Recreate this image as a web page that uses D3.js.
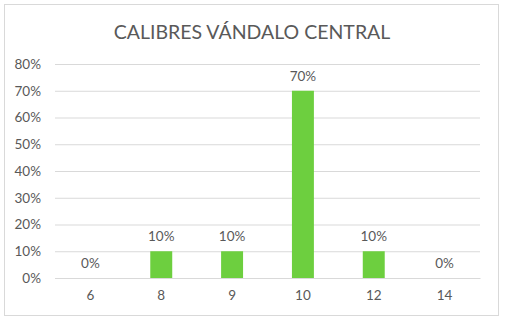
<!DOCTYPE html>
<html lang="es">
<head>
<meta charset="UTF-8">
<title>Calibres Vándalo Central</title>
<script src="https://d3js.org/d3.v7.min.js"></script>
<style>
  body { margin: 0; background: #fff; }
  text { font-family: Lato, "Open Sans", sans-serif; fill: #595959; }
</style>
</head>
<body>
<div id="chart"></div>
<script>
    // Data
    var calibres = ["6", "8", "9", "10", "12", "14"];
    var valores = [0, 0.10, 0.10, 0.70, 0.10, 0];
    var ticks = [0, 0.1, 0.2, 0.3, 0.4, 0.5, 0.6, 0.7, 0.8];

    var W = 506, H = 323;
    var margin = { top: 64, right: 26, bottom: 45, left: 55 },
        width = W - margin.left - margin.right,
        height = 278 - margin.top;

    var svg = d3.select("#chart")
        .append("svg")
        .attr("width", W)
        .attr("height", H);

    // Chart border
    svg.append("rect")
        .attr("x", 4.5).attr("y", 4.5)
        .attr("width", 494).attr("height", 311)
        .attr("fill", "#fff")
        .attr("stroke", "#d9d9d9");

    // Title
    svg.append("text")
        .attr("x", 252)
        .attr("y", 39)
        .attr("text-anchor", "middle")
        .style("font-size", "19.5px")
        .text("CALIBRES VÁNDALO CENTRAL");

    var g = svg.append("g")
        .attr("transform", "translate(" + margin.left + "," + margin.top + ")");

    var x = d3.scaleBand()
        .domain(calibres)
        .range([0, width])
        .paddingInner(0.69)
        .paddingOuter(0.345);

    var y = d3.scaleLinear()
        .domain([0, 0.8])
        .range([height, 0]);

    // Gridlines + y labels
    var yAxis = g.append("g")
        .call(d3.axisLeft(y)
            .tickValues(ticks)
            .tickFormat(d3.format(".0%"))
            .tickSize(-width)
            .tickPadding(14));
    yAxis.select(".domain").remove();
    yAxis.selectAll("line").attr("stroke", "#d9d9d9");
    yAxis.selectAll("text").style("font-size", "13.5px").attr("fill", "#595959");

    // X axis labels
    var xAxis = g.append("g")
        .attr("transform", "translate(0," + height + ")")
        .call(d3.axisBottom(x).tickSize(0).tickPadding(12));
    xAxis.select(".domain").attr("stroke", "#d9d9d9");
    xAxis.selectAll("text").style("font-size", "13.5px").attr("fill", "#595959");

    // Bars
    g.selectAll("rect.bar")
        .data(valores)
        .enter()
        .append("rect")
        .attr("class", "bar")
        .attr("x", function(d, i) { return x(calibres[i]); })
        .attr("y", function(d) { return y(d); })
        .attr("width", x.bandwidth())
        .attr("height", function(d) { return height - y(d); })
        .attr("fill", "#6dcf3f");

    // Value labels
    g.selectAll("text.val")
        .data(valores)
        .enter()
        .append("text")
        .attr("class", "val")
        .attr("x", function(d, i) { return x(calibres[i]) + x.bandwidth() / 2; })
        .attr("y", function(d) { return y(d) - 10; })
        .attr("text-anchor", "middle")
        .style("font-size", "13.5px")
        .text(function(d) { return d3.format(".0%")(d); });
</script>
</body>
</html>
